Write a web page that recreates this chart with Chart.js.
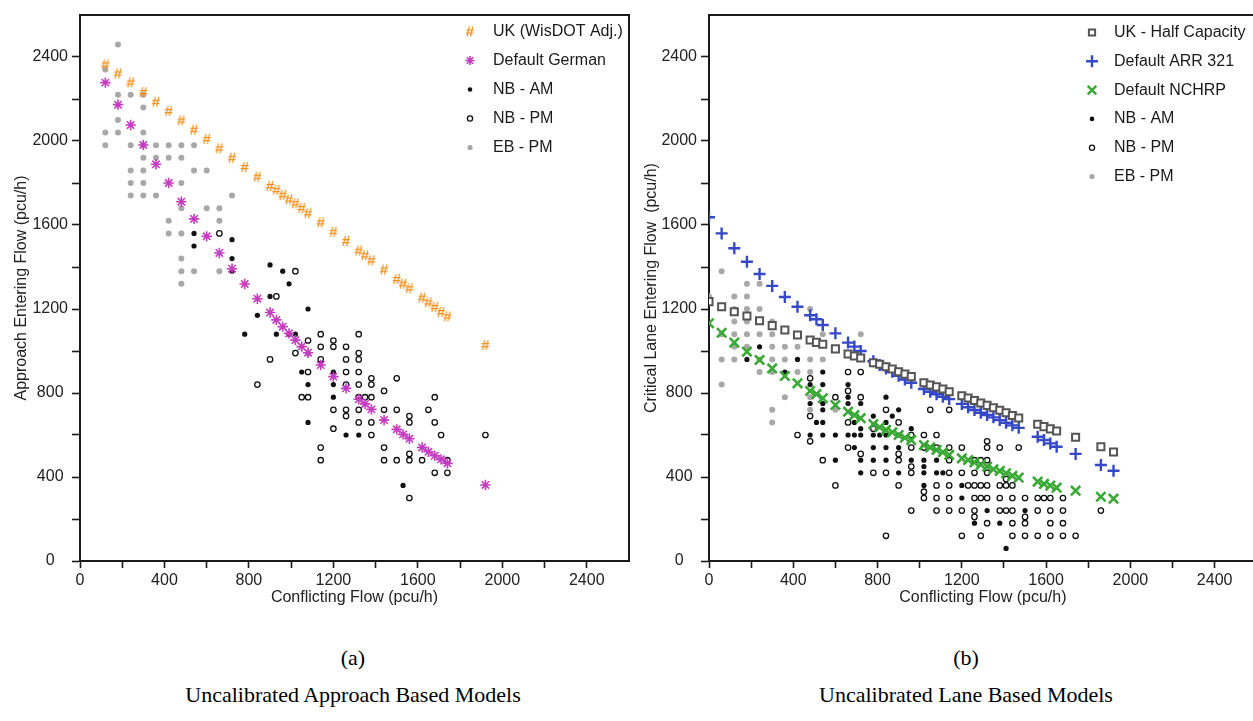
<!DOCTYPE html>
<html>
<head>
<meta charset="utf-8">
<script src="https://cdn.jsdelivr.net/npm/chart.js@4.4.1/dist/chart.umd.min.js"></script>
<style>
  html { margin: 0; padding: 0; overflow: hidden; background: #fff; }
  body { margin: 0; padding: 0; background: #fff; position: relative; width: 1300px; height: 721px; }
  #leftChart { position: absolute; left: 0; top: 0; width: 640px; height: 610px; }
  #rightChart { position: absolute; left: 630px; top: 0; width: 636px; height: 610px; }
  .cap { position: absolute; top: 639px; width: 420px; text-align: center; font-family: "Liberation Serif", "DejaVu Serif", serif; font-size: 22px; line-height: 37px; color: #000; }
</style>
</head>
<body>
<canvas id="leftChart" width="640" height="610"></canvas>
<canvas id="rightChart" width="636" height="610"></canvas>
<div class="cap" style="left:143px">(a)<br>Uncalibrated Approach Based Models</div>
<div class="cap" style="left:756px">(b)<br>Uncalibrated Lane Based Models</div>
<script>
// ---- (a) approach based models ----
const approachFlow = [120, 180, 240, 300, 360, 420, 480, 540, 600, 660, 720, 780, 840,
  900, 930, 960, 990, 1020, 1050, 1080, 1140, 1200, 1260, 1320, 1350, 1380, 1440,
  1500, 1530, 1560, 1620, 1650, 1680, 1710, 1740, 1920];
const ukWisdot = [2365, 2322, 2279, 2233, 2187, 2143, 2098, 2054, 2010, 1965, 1920, 1876, 1830,
  1786, 1767, 1744, 1722, 1703, 1681, 1656, 1613, 1568, 1524, 1478, 1456, 1432, 1388,
  1343, 1321, 1299, 1254, 1232, 1210, 1186, 1165, 1029];
const defaultGerman = [2278, 2173, 2076, 1981, 1889, 1800, 1711, 1629, 1546, 1467, 1392, 1319, 1249,
  1183, 1148, 1116, 1084, 1052, 1021, 992, 933, 878, 822, 770, 748, 722, 671,
  627, 603, 582, 541, 520, 501, 484, 465, 362];

const nbAmA = [[540,1560],[540,1500],[720,1530],[720,1440],[720,1380],[840,1170],[900,1410],[960,1380],
  [990,1320],[900,1260],[1080,1200],[780,1080],[930,1080],[990,1080],[1020,1080],[1080,990],[1050,900],
  [1200,900],[1080,840],[1200,840],[1200,780],[1080,660],[1260,600],[1320,600],[1530,360]];
const nbPmA = [[660,1560],[1020,1380],[930,1260],[1080,1050],[1140,1080],[1320,1080],[1200,1050],[900,960],
  [1020,990],[1140,1020],[1200,1020],[1260,1020],[1320,990],[1140,960],[1260,960],[1320,960],[1080,900],
  [1260,900],[1320,900],[1380,870],[1500,870],[840,840],[1260,840],[1320,840],[1380,840],[1440,810],
  [1050,780],[1080,780],[1320,780],[1350,780],[1380,780],[1680,780],[1200,720],[1260,720],[1320,720],
  [1440,720],[1500,720],[1650,720],[1260,690],[1560,690],[1320,660],[1380,660],[1560,660],[1680,660],
  [1200,630],[1380,600],[1710,600],[1920,600],[1140,540],[1440,540],[1560,510],[1140,480],[1440,480],
  [1500,480],[1560,480],[1620,480],[1740,480],[1680,420],[1740,420],[1560,300]];
const ebPmA = [[120,2340],[180,2460],[180,2220],[240,2220],[300,2220],[300,2160],[180,2100],[120,2040],
  [180,2040],[300,2040],[120,1980],[240,1980],[300,1980],[360,1980],[420,1980],[480,1980],[540,1980],
  [300,1920],[360,1920],[420,1920],[480,1920],[240,1860],[300,1860],[540,1860],[600,1860],[240,1800],
  [300,1800],[480,1800],[240,1740],[300,1740],[360,1740],[720,1740],[480,1680],[600,1680],[660,1680],
  [420,1620],[660,1620],[420,1560],[480,1560],[480,1440],[480,1380],[540,1380],[660,1380],[480,1320]];

// ---- (b) lane based models ----
const laneFlow = [0, 60, 120, 180, 240, 300, 360, 420, 480, 510, 540, 600, 660, 690, 720,
  780, 810, 840, 870, 900, 930, 960, 1020, 1050, 1080, 1110, 1140,
  1200, 1230, 1260, 1290, 1320, 1350, 1380, 1410, 1440, 1470, 1560, 1590, 1620, 1650, 1740, 1860, 1920];
const ukHalf = [1235, 1211, 1187, 1167, 1144, 1121, 1100, 1076, 1052, 1041, 1032, 1010, 986, 976, 967,
  944, 937, 925, 914, 901, 890, 878, 849, 838, 829, 819, 806,
  787, 776, 764, 752, 741, 730, 718, 706, 693, 681, 651, 640, 629, 619, 589, 544, 519];
const arr321 = [1637, 1560, 1489, 1425, 1367, 1310, 1257, 1211, 1170, 1151, 1124, 1084, 1040, 1021, 1000,
  951, 933, 917, 901, 882, 864, 849, 819, 806, 794, 782, 771,
  748, 732, 719, 706, 695, 684, 671, 658, 646, 634, 592, 576, 560, 544, 510, 457, 430];
const nchrp = [1132, 1087, 1040, 997, 957, 917, 881, 846, 810, 795, 775, 743, 711, 695, 680,
  652, 637, 624, 613, 600, 587, 576, 552, 541, 529, 518, 505,
  489, 481, 470, 459, 449, 437, 429, 418, 406, 397, 378, 367, 359, 349, 335, 306, 297];

const nbAmB = [[180,960],[240,1020],[420,960],[360,900],[540,900],[480,840],[540,840],[660,840],[660,780],
  [840,780],[480,750],[540,750],[660,750],[720,750],[540,720],[900,720],[780,690],[870,690],[510,660],
  [540,660],[690,660],[840,660],[720,630],[960,630],[480,600],[540,600],[600,600],[660,600],[690,600],
  [720,600],[780,600],[810,600],[840,600],[900,600],[690,540],[780,540],[840,540],[900,540],[600,480],
  [720,480],[780,480],[840,480],[960,480],[1020,480],[1080,480],[1020,450],[720,420],[900,420],[1020,420],
  [1080,420],[1110,420],[1020,360],[1200,360],[1200,300],[1320,240],[1500,240],[1260,180],[1380,180],[1410,60]];
const nbPmB = [[480,870],[660,900],[720,900],[660,810],[600,780],[720,780],[840,720],[1050,720],[1140,720],
  [480,690],[660,660],[900,660],[780,630],[420,600],[960,600],[1020,600],[1080,600],[480,570],[1320,570],
  [660,540],[960,540],[1020,540],[1080,540],[1140,540],[1200,540],[1320,540],[1380,540],[1470,540],
  [720,510],[900,510],[540,480],[900,480],[1140,480],[1260,480],[1290,480],[1320,480],[960,450],
  [780,420],[840,420],[960,420],[1140,420],[1200,420],[1260,420],[1320,420],[1410,390],[600,360],
  [900,360],[1080,360],[1140,360],[1230,360],[1260,360],[1290,360],[1320,360],[1380,360],[1410,360],
  [1440,360],[1020,330],[1020,300],[1080,300],[1140,300],[1260,300],[1290,300],[1320,300],[1380,300],
  [1440,300],[1500,300],[1560,300],[1590,300],[1620,300],[1680,300],[960,240],[1080,240],[1140,240],
  [1200,240],[1260,240],[1380,240],[1410,240],[1440,240],[1560,240],[1620,240],[1680,240],[1860,240],
  [1260,210],[1500,210],[1320,180],[1440,180],[1500,180],[1620,180],[1680,180],[840,120],[1200,120],
  [1290,120],[1440,120],[1500,120],[1560,120],[1620,120],[1680,120],[1740,120]];
const ebPmB = [[0,1260],[60,1380],[180,1320],[240,1320],[120,1260],[180,1260],[120,1200],[180,1200],
  [240,1200],[480,1200],[120,1140],[180,1140],[300,1140],[60,1080],[120,1080],[180,1080],[240,1080],
  [300,1080],[540,1080],[720,1080],[120,1020],[180,1020],[300,1020],[360,1020],[420,1020],[60,960],
  [120,960],[240,960],[300,960],[360,960],[480,960],[540,960],[240,900],[300,900],[420,900],[480,900],
  [60,840],[360,780],[480,780],[300,720],[480,720],[600,720],[300,660]];

const FONT = '"Liberation Sans", Arial, sans-serif';
const INK = '#1a1a1a';

const zip = (xs, ys) => xs.map((x, i) => ({ x: x, y: ys[i] }));
const pts = arr => arr.map(p => ({ x: p[0], y: p[1] }));

// orange "#" marker
function hashMarker() {
  const c = document.createElement('canvas');
  c.width = 14; c.height = 16;
  const g = c.getContext('2d');
  g.fillStyle = '#F5901C';
  g.font = 'bold 15px ' + FONT;
  g.textAlign = 'center';
  g.textBaseline = 'middle';
  g.fillText('#', 7, 8.5);
  return c;
}

function series(label, data, style, radius, fill, stroke, width, legendRadius) {
  return {
    label: label, data: data,
    pointStyle: style, pointRadius: radius, pointHoverRadius: radius,
    pointBackgroundColor: fill, pointBorderColor: stroke, pointBorderWidth: width,
    backgroundColor: fill, borderColor: stroke,
    legendRadius: legendRadius
  };
}

// top/right frame + legend drawn in the corner
const framePlugin = {
  id: 'frame',
  afterDraw(chart, args, opts) {
    const ctx = chart.ctx, a = chart.chartArea;
    ctx.save();
    ctx.strokeStyle = INK;
    ctx.lineWidth = 2;
    ctx.beginPath();
    ctx.moveTo(a.left - 1, a.top);
    ctx.lineTo(a.right, a.top);
    ctx.lineTo(a.right, a.bottom + 1);
    ctx.stroke();
    ctx.font = '16px ' + FONT;
    ctx.textBaseline = 'middle';
    chart.data.datasets.forEach((ds, i) => {
      const y = opts.y + i * opts.dy;
      ctx.save();
      ctx.fillStyle = ds.pointBackgroundColor;
      ctx.strokeStyle = ds.pointBorderColor;
      ctx.lineWidth = ds.pointBorderWidth;
      Chart.helpers.drawPoint(ctx, { pointStyle: ds.pointStyle, radius: ds.legendRadius,
        borderWidth: ds.pointBorderWidth, rotation: 0 }, opts.x, y);
      ctx.restore();
      ctx.fillStyle = INK;
      ctx.fillText(ds.label, opts.textX, y);
    });
    ctx.restore();
  }
};

function tickColor(c) {
  return c.tick && c.tick.value === 2600 ? 'rgba(0,0,0,0)' : INK;
}

function scales(yTitle, yTitlePad, yWidth) {
  return {
    x: {
      type: 'linear', position: 'bottom', min: 0, max: 2600,
      border: { color: INK, width: 2 },
      grid: { drawOnChartArea: false, drawTicks: true, tickLength: 7, tickWidth: 1.6, tickColor: tickColor },
      ticks: { stepSize: 200, autoSkip: false, maxRotation: 0, padding: 3, color: '#222',
        font: { family: FONT, size: 16 }, callback: v => (v % 400 === 0 && v <= 2400) ? String(v) : '' },
      title: { display: true, text: 'Conflicting Flow (pcu/h)', color: '#222',
        font: { family: FONT, size: 16 }, padding: { top: 0, bottom: 3 } },
      afterFit: s => { s.height = 49; }
    },
    y: {
      type: 'linear', position: 'left', min: 0, max: 2600,
      border: { color: INK, width: 2 },
      grid: { drawOnChartArea: false, drawTicks: true, tickLength: 8, tickWidth: 1.6, tickColor: tickColor },
      ticks: { stepSize: 200, autoSkip: false, padding: 4, crossAlign: 'center', color: '#222',
        font: { family: FONT, size: 16 }, callback: v => (v % 400 === 0 && v <= 2400) ? String(v) : '' },
      title: { display: true, text: yTitle, color: '#222',
        font: { family: FONT, size: 16 }, padding: { top: yTitlePad, bottom: 0 } },
      afterFit: s => { s.width = yWidth; }
    }
  };
}

const obs = (am, pm, eb) => [
  series('NB - AM', pts(am), 'circle', 2.6, '#111', '#111', 0, 2.3),
  series('NB - PM', pts(pm), 'circle', 2.7, 'rgba(0,0,0,0)', '#111', 1.3, 2.6),
  series('EB - PM', pts(eb), 'circle', 3, '#A8A8A8', '#A8A8A8', 0, 2.6)
];

new Chart(document.getElementById('leftChart'), {
  type: 'scatter',
  data: {
    datasets: [
      series('UK (WisDOT Adj.)', zip(approachFlow, ukWisdot), hashMarker(), 6, '#F5901C', '#F5901C', 0, 6),
      series('Default German', zip(approachFlow, defaultGerman), 'star', 5.2, '#C43DC0', '#C43DC0', 1.6, 4.6)
    ].concat(obs(nbAmA, nbPmA, ebPmA))
  },
  options: {
    responsive: false,
    animation: false,
    layout: { padding: { top: 15, right: 11, left: 0, bottom: 0 } },
    plugins: {
      legend: { display: false },
      tooltip: { enabled: false },
      frame: { x: 470, textX: 493, y: 31.5, dy: 29 }
    },
    scales: scales('Approach Entering Flow (pcu/h)', 12, 80)
  },
  plugins: [framePlugin]
});

// plot (b) runs past the right edge of the page, as in the source figure
new Chart(document.getElementById('rightChart'), {
  type: 'scatter',
  data: {
    datasets: [
      series('UK - Half Capacity', zip(laneFlow, ukHalf), 'rect', 5, '#fff', '#555555', 2, 4.4),
      series('Default ARR 321', zip(laneFlow, arr321), 'cross', 6, '#3448C8', '#3448C8', 2.4, 6),
      series('Default NCHRP', zip(laneFlow, nchrp), 'crossRot', 6.6, '#3AA935', '#3AA935', 2.6, 6)
    ].concat(obs(nbAmB, nbPmB, ebPmB))
  },
  options: {
    responsive: false,
    animation: false,
    layout: { padding: { top: 15, right: 0, left: 0, bottom: 0 } },
    plugins: {
      legend: { display: false },
      tooltip: { enabled: false },
      frame: { x: 462, textX: 484, y: 32.5, dy: 28.8 }
    },
    scales: scales('Critical Lane Entering Flow  (pcu/h)', 12, 79)
  },
  plugins: [framePlugin]
});
</script>
</body>
</html>
